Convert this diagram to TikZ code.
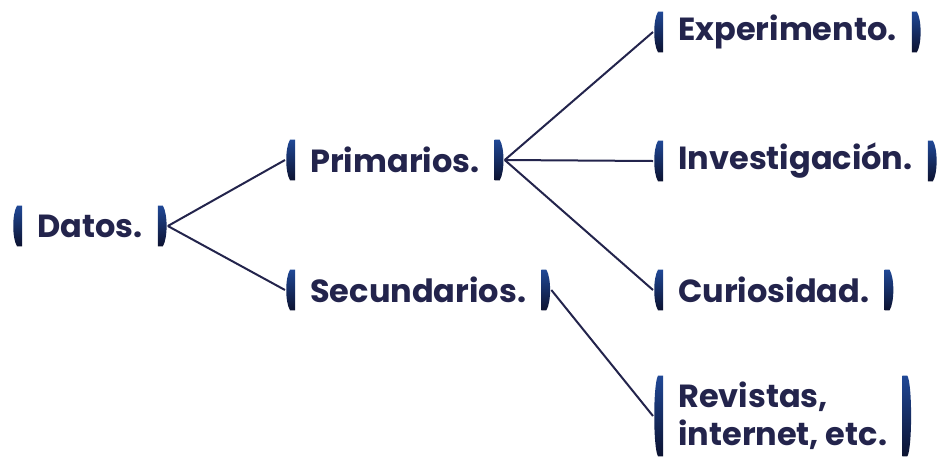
\documentclass[tikz,border=0pt]{standalone}
\usepackage{fontspec}
\setmainfont{Poppins}
\usepackage{tikz}
\usetikzlibrary{arrows}

\definecolor{tinta}{RGB}{35,36,76}
\definecolor{azulsup}{RGB}{32,72,150}
\definecolor{azulinf}{RGB}{12,18,48}

% brackets drawn on both sides of a named node
\newcommand{\corchetes}[1]{%
    \shade[top color=azulsup, bottom color=azulinf]
        ([xshift=10pt]#1.north west) -- ([xshift=5pt]#1.north west)
        .. controls ([yshift=-8pt]#1.north west) and ([yshift=8pt]#1.south west) .. ([xshift=5pt]#1.south west)
        -- ([xshift=10pt]#1.south west) -- cycle;
    \shade[top color=azulsup, bottom color=azulinf]
        ([xshift=-10pt]#1.north east) -- ([xshift=-5pt]#1.north east)
        .. controls ([yshift=-8pt]#1.north east) and ([yshift=8pt]#1.south east) .. ([xshift=-5pt]#1.south east)
        -- ([xshift=-10pt]#1.south east) -- cycle;
}

\begin{document}
\begin{tikzpicture}[
            x = 1pt, y = -1pt, % pixel grid
            semithick, % line style
            rama/.style = {draw = tinta, line width = 2pt}
        ]

        \tikzstyle{every node}=[
            anchor = west,
            text = tinta,
            font = \bfseries\fontsize{32}{38}\selectfont,
            inner xsep = 25pt,
            inner ysep = 0pt,
            minimum height = 40pt
        ]

        \useasboundingbox (0,0) rectangle (939,456);

        \node (datos) at (12,226) {Datos.};
        \node (prim) at (285,160) {Primarios.};
        \node (sec) at (285,290) {Secundarios.};
        \node (exp) at (653,32) {Experimento.};
        \node (inv) at (653,161) {Investigación.};
        \node (cur) at (653,290) {Curiosidad.};
        \node[align = left, minimum height = 80pt] (rev) at (653,416) {Revistas,\\internet, etc.};

        \draw[rama] (datos.east) -- (prim.west);
        \draw[rama] (datos.east) -- (sec.west);
        \draw[rama] (prim.east) -- (exp.west);
        \draw[rama] (prim.east) -- (inv.west);
        \draw[rama] (prim.east) -- (cur.west);
        \draw[rama] (sec.east) -- (rev.west);

        \corchetes{datos}
        \corchetes{prim}
        \corchetes{sec}
        \corchetes{exp}
        \corchetes{inv}
        \corchetes{cur}
        \corchetes{rev}
    \end{tikzpicture}
\end{document}
